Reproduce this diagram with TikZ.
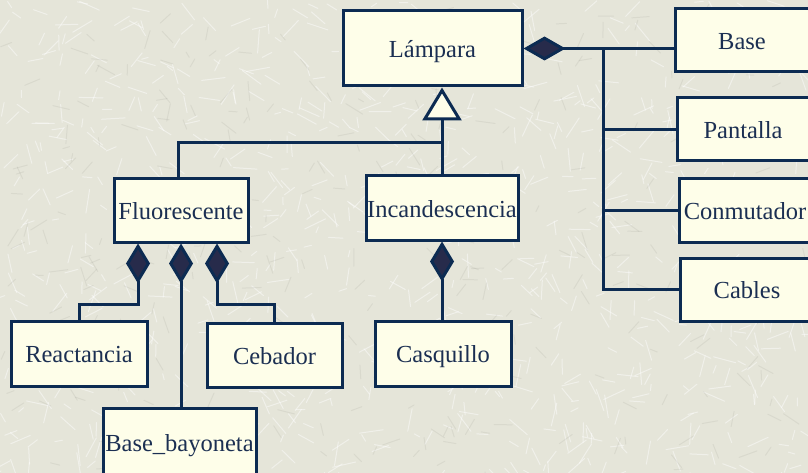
\documentclass[tikz,border=0pt]{standalone}
\usepackage{fontspec}
\setmainfont{Liberation Serif}
\usetikzlibrary{arrows.meta,calc}

\definecolor{paper}{HTML}{E5E5D9}
\definecolor{boxfill}{HTML}{FEFEE9}
\definecolor{edge}{HTML}{0C2B52}
\definecolor{ink}{HTML}{1B2F52}
\definecolor{diafill}{HTML}{272B4B}

\tikzset{
  cls/.style={rectangle, draw=edge, line width=3pt, fill=boxfill, text=ink,
    inner sep=0pt, text height=22pt, text depth=4pt,
    font=\fontsize{24.5}{29}\selectfont},
  link/.style={draw=edge, line width=3pt},
  comp/.style={link, {Diamond[fill=diafill, length=40pt, width=24pt]}-},
  comph/.style={link, {Diamond[fill=diafill, length=42pt, width=24pt]}-},
  gen/.style={link, -{Triangle[fill=boxfill, length=33pt, width=39pt]}},
  fibre/.style={line width=1pt, line cap=round},
}

\begin{document}
\begin{tikzpicture}[x=1pt, y=-1pt]
  \useasboundingbox (0,0) rectangle (808,473);
  \clip (0,0) rectangle (808,473);
  \fill[paper] (0,0) rectangle (808,473);

  % fibrous paper texture
  \pgfmathsetseed{11}
  \foreach \i in {1,...,900}{
    \pgfmathsetmacro\px{rnd*808}
    \pgfmathsetmacro\py{rnd*473}
    \pgfmathsetmacro\ang{rnd*180}
    \pgfmathsetmacro\len{6+rnd*18}
    \draw[fibre, white, opacity=0.45] (\px,\py) -- ++(\ang:\len);
  }
  \foreach \i in {1,...,300}{
    \pgfmathsetmacro\px{rnd*808}
    \pgfmathsetmacro\py{rnd*473}
    \pgfmathsetmacro\ang{rnd*180}
    \pgfmathsetmacro\len{6+rnd*14}
    \draw[fibre, black, opacity=0.05] (\px,\py) -- ++(\ang:\len);
  }

  % classes
  \node[cls, minimum width=179pt, minimum height=75pt] (lampara) at (432.5,48.5) {Lámpara};
  \node[cls, minimum width=134pt, minimum height=63pt] (fluo) at (181,210.5) {Fluorescente};
  \node[cls, minimum width=152pt, minimum height=64pt] (inc) at (442,208) {Incandescencia};
  \node[cls, minimum width=136pt, minimum height=65pt] (cas) at (443,353.5) {Casquillo};
  \node[cls, minimum width=136pt, minimum height=65pt] (reac) at (79,353.5) {Reactancia};
  \node[cls, minimum width=135pt, minimum height=64pt] (ceb) at (274.5,355) {Cebador};
  \node[cls, minimum width=153pt, minimum height=68pt] (bay) at (179.5,442) {Base\_bayoneta};
  \node[cls, minimum width=134pt, minimum height=63pt] (base) at (742,40.5) {Base};
  \node[cls, minimum width=132pt, minimum height=63pt] (pant) at (743,129.5) {Pantalla};
  \node[cls, minimum width=132pt, minimum height=63pt] (conm) at (745,210.5) {Conmutador};
  \node[cls, minimum width=134pt, minimum height=63pt] (cabl) at (747,289.5) {Cables};

  % generalisation
  \coordinate (gj) at (442,143);
  \coordinate (fj) at ($(fluo.north)+(-3,0)$);
  \draw[link] (fj) |- (gj) -- (inc.north);
  \draw[gen] (gj) -- (lampara.south -| gj);

  % composition of Lámpara
  \coordinate (trunk) at (603,0);
  \draw[comph] (lampara.east) -- (lampara.east -| base.west);
  \draw[link] (trunk |- lampara.east) -- (trunk |- cabl.west) -- (cabl.west);
  \draw[link] (trunk |- pant.west) -- (pant.west);
  \draw[link] (trunk |- conm.west) -- (conm.west);

  % composition of Fluorescente
  \coordinate (f1) at ($(fluo.south)+(-43,0)$);
  \coordinate (f3) at ($(fluo.south)+(36,0)$);
  \draw[comp] (f1) |- ($(reac.north)+(0,-15)$) -| (reac.north);
  \draw[comp] (fluo.south) -- (fluo.south |- bay.north);
  \draw[comp] (f3) |- ($(ceb.north)+(0,-17)$) -| (ceb.north);

  % composition of Incandescencia
  \draw[comp] (inc.south) -- (inc.south |- cas.north);
\end{tikzpicture}
\end{document}
